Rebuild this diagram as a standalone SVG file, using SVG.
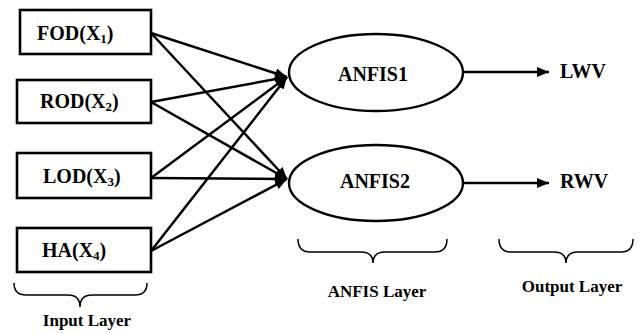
<svg xmlns="http://www.w3.org/2000/svg" width="642" height="333" viewBox="0 0 642 333">
<defs>
<marker id="ah" markerUnits="userSpaceOnUse" markerWidth="12" markerHeight="10" refX="12" refY="5" orient="auto">
<path d="M0,0 L12,5 L0,10 z" fill="#000"/>
</marker>
<style>
.box{fill:#fff;stroke:#000;stroke-width:2.6}
.ell{fill:#fff;stroke:#000;stroke-width:2.4}
.t{font-family:"Liberation Serif","Times New Roman",serif;font-weight:bold;font-size:20px;fill:#000}
.sub{font-size:13px}
.lay{font-family:"Liberation Serif","Times New Roman",serif;font-weight:bold;font-size:17px;fill:#000;text-anchor:middle}
.c{stroke:#000;stroke-width:2.5;fill:none;marker-end:url(#ah)}
.br{stroke:#000;stroke-width:1.5;fill:none}
</style>
</defs>
<rect width="642" height="333" fill="#fff"/>
<g id="connectors">
<line class="c" x1="151" y1="33" x2="287" y2="77"/>
<line class="c" x1="151" y1="102" x2="287" y2="77"/>
<line class="c" x1="151" y1="178" x2="287" y2="77"/>
<line class="c" x1="151" y1="251" x2="287" y2="77"/>
<line class="c" x1="151" y1="33" x2="287" y2="179"/>
<line class="c" x1="151" y1="102" x2="287" y2="179"/>
<line class="c" x1="151" y1="178" x2="287" y2="179"/>
<line class="c" x1="151" y1="251" x2="287" y2="179"/>
<line class="c" x1="463" y1="72" x2="549" y2="72"/>
<line class="c" x1="463" y1="183" x2="549" y2="183"/>
</g>
<g id="fod">
<rect class="box" x="20" y="10" width="131" height="44"/>
<text class="t" x="37" y="40">FOD(X<tspan class="sub" dy="3">1</tspan><tspan dy="-3">)</tspan></text>
</g>
<g id="rod">
<rect class="box" x="17" y="80" width="134" height="43"/>
<text class="t" x="40" y="108">ROD(X<tspan class="sub" dy="3">2</tspan><tspan dy="-3">)</tspan></text>
</g>
<g id="lod">
<rect class="box" x="17" y="153" width="134" height="45"/>
<text class="t" x="43" y="183">LOD(X<tspan class="sub" dy="3">3</tspan><tspan dy="-3">)</tspan></text>
</g>
<g id="ha">
<rect class="box" x="17" y="228" width="134" height="44"/>
<text class="t" x="42" y="257">HA(X<tspan class="sub" dy="3">4</tspan><tspan dy="-3">)</tspan></text>
</g>
<g id="anfis1">
<ellipse class="ell" cx="376" cy="72.5" rx="87" ry="38.5"/>
<text class="t" x="373" y="81" text-anchor="middle">ANFIS1</text>
</g>
<g id="anfis2">
<ellipse class="ell" cx="376" cy="183" rx="87" ry="38"/>
<text class="t" x="375" y="188" text-anchor="middle">ANFIS2</text>
</g>
<g id="lwv">
<text class="t" x="560" y="78">LWV</text>
</g>
<g id="rwv">
<text class="t" x="560" y="188">RWV</text>
</g>
<g id="input-layer">
<path class="br" d="M14,283 Q14,295 26,295 L68,295 Q80,295 80,307 Q80,295 92,295 L135,295 Q147,295 147,283"/>
<text class="lay" x="87" y="326">Input Layer</text>
</g>
<g id="anfis-layer">
<path class="br" d="M298,239 Q298,252 310,252 L361,252 Q373,252 373,263 Q373,252 385,252 L435,252 Q447,252 447,239"/>
<text class="lay" x="377" y="297">ANFIS Layer</text>
</g>
<g id="output-layer">
<path class="br" d="M499,239 Q499,252 511,252 L554,252 Q566,252 566,263 Q566,252 578,252 L621,252 Q633,252 633,239"/>
<text class="lay" x="572" y="292">Output Layer</text>
</g>
</svg>
